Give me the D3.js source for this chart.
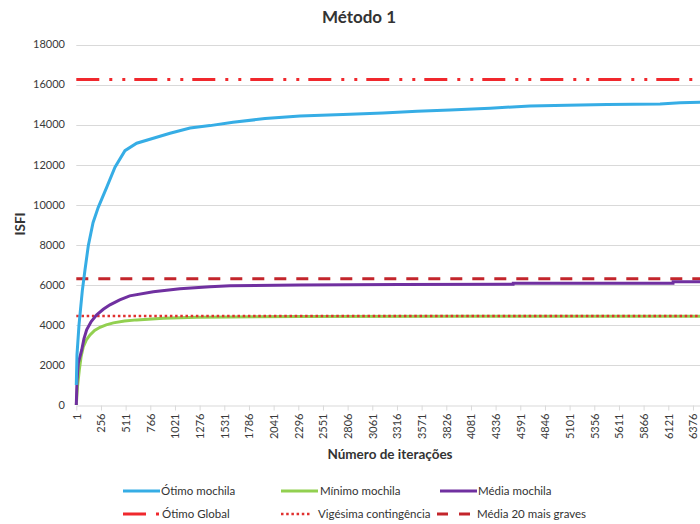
<!DOCTYPE html>
<html><head><meta charset="utf-8">
<script src="https://cdn.jsdelivr.net/npm/d3@7"></script>
<style>body{margin:0;background:#fff}svg{display:block}text{font-family:Lato,"Open Sans",sans-serif}</style>
</head><body><div id="chart"></div>
<script>
const N = 6500;
const xTicks = [1,256,511,766,1021,1276,1531,1786,2041,2296,2551,2806,3061,3316,3571,3826,4081,4336,4591,4846,5101,5356,5611,5866,6121,6376];
const yTicks = [0,2000,4000,6000,8000,10000,12000,14000,16000,18000];
// [iteration, value]
const otimoMochila = [[1,1000],[8,2500],[29,4000],[63,5700],[91,6750],[125,7950],[174,9100],[228,9870],[315,10870],[401,11870],[504,12700],[625,13070],[797,13320],[970,13570],[1177,13830],[1383,13950],[1621,14120],[1952,14300],[2314,14430],[2831,14520],[3172,14580],[3524,14670],[3865,14730],[4279,14820],[4692,14930],[5075,14970],[5488,15000],[6036,15030],[6243,15090],[6500,15120]];
const minimoMochila = [[1,0],[13,900],[32,1750],[50,2400],[73,2900],[105,3250],[143,3500],[190,3720],[246,3880],[310,4000],[384,4100],[500,4190],[625,4250],[900,4330],[1246,4380],[1590,4400],[2314,4420],[4000,4430],[6500,4435]];
const mediaMochila = [[1,0],[8,1200],[22,2100],[57,2750],[80,3300],[108,3750],[155,4170],[212,4500],[280,4780],[349,5000],[450,5250],[553,5450],[797,5650],[1072,5800],[1383,5900],[1590,5950],[2314,5990],[3348,6020],[4517,6030],[4518,6080],[6170,6080],[6171,6150],[6500,6150]];
const otimoGlobal = 16250;
const vigesima = 4450;
const media20 = 6300;

const W = 700, H = 524;
const svg = d3.select("#chart").append("svg").attr("width", W).attr("height", H);
const x0 = 76.3, pxPerIt = 0.09673;
const x = d3.scaleLinear().domain([1, N]).range([x0, x0 + (N - 1) * pxPerIt]);
const y = d3.scaleLinear().domain([0, 18000]).range([405, 44.5]);

svg.append("g").selectAll("line").data(yTicks.slice(1)).join("line")
  .attr("x1", x0).attr("x2", W).attr("y1", d => Math.round(y(d)) + 0.5).attr("y2", d => Math.round(y(d)) + 0.5)
  .attr("stroke", "#d9d9d9").attr("stroke-width", 1);

svg.append("g").selectAll("text").data(yTicks).join("text")
  .attr("x", 65).attr("y", d => y(d)).attr("dy", "0.35em").attr("text-anchor", "end")
  .attr("font-size", 11).attr("fill", "#3a3a3a").text(d => d);

const xAxis = d3.axisBottom(x).tickValues(xTicks).tickSize(5).tickSizeOuter(0).tickFormat(d => d);
const gx = svg.append("g").attr("transform", `translate(0,${Math.round(y(0)) + 0.5})`).call(xAxis);
gx.select(".domain").attr("stroke", "#d9d9d9");
gx.selectAll(".tick line").attr("stroke", "#d9d9d9");
gx.selectAll(".tick text").attr("font-size", 11).attr("fill", "#3a3a3a")
  .attr("font-family", "Lato, sans-serif")
  .attr("transform", "rotate(-90)").attr("text-anchor", "end").attr("x", -8).attr("y", 0).attr("dy", "0.35em");

const line = d3.line().x(d => x(d[0])).y(d => y(d[1]));
const plot = svg.append("g");
function hline(v, color, dash, w) {
  plot.append("line").attr("x1", x0).attr("x2", W).attr("y1", y(v)).attr("y2", y(v))
    .attr("stroke", color).attr("stroke-width", w).attr("stroke-dasharray", dash);
}
hline(media20, "#c3252b", "12,10", 3);
plot.append("path").datum(minimoMochila).attr("d", line).attr("fill", "none").attr("stroke", "#92d050").attr("stroke-width", 3);
hline(vigesima, "#e0302f", "2.5,2.7", 2.5);
plot.append("path").datum(mediaMochila).attr("d", line).attr("fill", "none").attr("stroke", "#7030a0").attr("stroke-width", 3);
plot.append("path").datum(otimoMochila).attr("d", line).attr("fill", "none").attr("stroke", "#36ade5").attr("stroke-width", 3);
hline(otimoGlobal, "#f0282d", "23,10,3,10,3,9", 3);

svg.append("text").attr("x", 359).attr("y", 23).attr("text-anchor", "middle").attr("font-size", 17)
  .attr("font-weight", "bold").attr("fill", "#333").text("Método 1");
svg.append("text").attr("x", 390).attr("y", 459).attr("text-anchor", "middle").attr("font-size", 13.5)
  .attr("font-weight", "bold").attr("fill", "#333").text("Número de iterações");
svg.append("text").attr("transform", "translate(25,224) rotate(-90)").attr("text-anchor", "middle").attr("font-size", 13.5)
  .attr("font-weight", "bold").attr("fill", "#333").text("ISFI");

const legend = [
  {label: "Ótimo mochila", color: "#36ade5", dash: null, w: 3, x1: 123, x2: 160, tx: 161, row: 0},
  {label: "Mínimo mochila", color: "#92d050", dash: null, w: 3, x1: 281, x2: 318, tx: 320, row: 0},
  {label: "Média mochila", color: "#7030a0", dash: null, w: 3, x1: 440, x2: 477, tx: 478, row: 0},
  {label: "Ótimo Global", color: "#f0282d", dash: "23,10,3,10,3,9", w: 3, x1: 123, x2: 159, tx: 162, row: 1},
  {label: "Vigésima contingência", color: "#e0302f", dash: "2.5,2.7", w: 2.5, x1: 281, x2: 311, tx: 318, row: 1},
  {label: "Média 20 mais graves", color: "#c3252b", dash: "11,11", w: 3, x1: 437, x2: 470, tx: 477, row: 1}
];
const lg = svg.append("g").selectAll("g").data(legend).join("g");
lg.append("line").attr("x1", d => d.x1).attr("x2", d => d.x2)
  .attr("y1", d => 491 + d.row * 23).attr("y2", d => 491 + d.row * 23)
  .attr("stroke", d => d.color).attr("stroke-width", d => d.w).attr("stroke-dasharray", d => d.dash);
lg.append("text").attr("x", d => d.tx).attr("y", d => 491 + d.row * 23).attr("dy", "0.35em")
  .attr("font-size", 11.5).attr("fill", "#333").text(d => d.label);
</script></body></html>
